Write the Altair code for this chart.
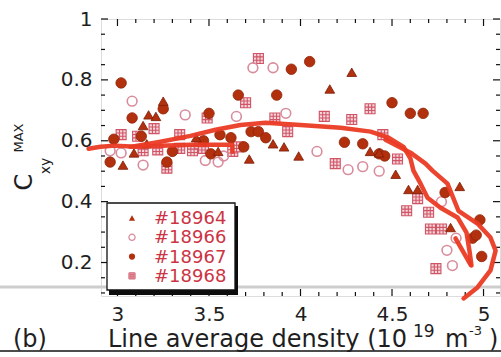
import altair as alt
import pandas as pd

# Maximum cross-correlation C_xy^MAX versus line-averaged density, four shots
shots = ["#18964", "#18966", "#18967", "#18968"]

s18964_x = [3.25, 3.17, 3.21, 3.14, 3.03, 3.09, 3.16, 3.43, 3.55, 3.72, 3.85, 3.91, 3.99,
            4.16, 4.28, 4.38, 4.43, 4.52, 4.59, 4.64, 4.87, 4.82]
s18964_y = [0.73, 0.685, 0.68, 0.65, 0.52, 0.56, 0.59, 0.61, 0.565, 0.54, 0.59, 0.58, 0.55,
            0.77, 0.825, 0.565, 0.56, 0.49, 0.44, 0.44, 0.45, 0.315]

s18966_x = [3.08, 3.37, 3.65, 3.74, 3.85, 3.92, 2.96, 3.02, 3.14, 3.48, 3.55, 3.58, 4.09,
            4.26, 4.34, 4.43, 4.77, 4.85, 4.80, 4.83]
s18966_y = [0.73, 0.685, 0.68, 0.84, 0.84, 0.69, 0.567, 0.56, 0.52, 0.535, 0.53, 0.55, 0.565,
            0.505, 0.515, 0.50, 0.40, 0.28, 0.24, 0.19]

s18967_x = [3.02, 3.25, 3.08, 3.50, 3.66, 3.87, 3.95, 4.05, 4.50, 4.60, 4.67, 2.96, 3.27,
            2.98, 3.13, 3.30, 3.47, 3.51, 3.56, 3.62, 3.69, 3.73, 3.77, 3.81, 4.24, 4.34,
            4.43, 4.46, 4.79, 4.98, 4.94, 4.96, 4.99]
s18967_y = [0.79, 0.705, 0.675, 0.69, 0.75, 0.75, 0.835, 0.86, 0.725, 0.69, 0.69, 0.53, 0.53,
            0.605, 0.615, 0.565, 0.60, 0.557, 0.62, 0.61, 0.58, 0.63, 0.63, 0.61, 0.595, 0.59,
            0.557, 0.55, 0.43, 0.34, 0.28, 0.29, 0.22]

s18968_x = [3.20, 3.02, 3.11, 3.34, 3.14, 3.22, 3.34, 3.41, 3.45, 3.47, 3.27, 3.49, 3.70,
            3.63, 3.66, 3.77, 3.86, 3.93, 4.13, 4.28, 4.38, 4.45, 4.53, 4.19, 4.64, 4.58,
            4.70, 4.71, 4.77, 4.74]
s18968_y = [0.64, 0.62, 0.615, 0.62, 0.567, 0.57, 0.575, 0.567, 0.59, 0.575, 0.51, 0.675, 0.725,
            0.565, 0.58, 0.87, 0.675, 0.63, 0.68, 0.67, 0.705, 0.62, 0.54, 0.525, 0.41, 0.37,
            0.365, 0.31, 0.31, 0.18]

# Hand-drawn red trend strokes over the scatter
stroke1_x = [2.842, 2.907, 2.989, 3.098, 3.235, 3.399, 3.536, 3.628, 3.628]
stroke1_y = [0.574, 0.580, 0.584, 0.580, 0.584, 0.587, 0.587, 0.587, 0.564]
stroke2_x = [3.071, 3.235, 3.399, 3.536, 3.672, 3.809, 4.000, 4.219, 4.383, 4.481, 4.563,
             4.601, 4.617, 4.656, 4.694, 4.765, 4.858, 4.907, 4.923, 4.934]
stroke2_y = [0.580, 0.597, 0.616, 0.636, 0.652, 0.659, 0.652, 0.643, 0.630, 0.610, 0.580,
             0.541, 0.502, 0.459, 0.413, 0.380, 0.348, 0.298, 0.239, 0.190]
stroke3_x = [4.847, 4.929]
stroke3_y = [0.279, 0.193]
stroke4_x = [4.464, 4.601, 4.683, 4.721, 4.803, 4.863, 4.967, 5.038, 5.066, 5.038, 4.967, 4.891]
stroke4_y = [0.603, 0.561, 0.525, 0.502, 0.459, 0.370, 0.328, 0.282, 0.239, 0.174, 0.118, 0.082]

x_labels = [3, 3.5, 4, 4.5, 5]
y_labels = [0.2, 0.4, 0.6, 0.8, 1]
x_minor = [3.1, 3.2, 3.3, 3.4, 3.6, 3.7, 3.8, 3.9, 4.1, 4.2, 4.3, 4.4, 4.6, 4.7, 4.8, 4.9]
y_minor = [0.1, 0.15, 0.25, 0.3, 0.35, 0.45, 0.5, 0.55, 0.65, 0.7, 0.75, 0.85, 0.9, 0.95]

W, H = 399, 277
FONT = "DejaVu Sans"
RED = "#ea3a24"
DARK = "#b3300f"
PINK = "#d98c9c"
GRID_SQ = "M-1,-1H1V1H-1Z M-1,-0.33H1 M-1,0.33H1 M-0.33,-1V1 M0.33,-1V1"

X = alt.X("x:Q", scale=alt.Scale(domain=[2.91, 5.09], nice=False, zero=False),
          axis=alt.Axis(values=x_labels, format="~g", ticks=False, domain=False, grid=False,
                        labelFont=FONT, labelFontSize=20, labelColor="#1e1e1e",
                        labelPadding=8, title=None))
Y = alt.Y("y:Q", scale=alt.Scale(domain=[0.09, 1.0], nice=False, zero=False),
          axis=alt.Axis(values=y_labels, format="~g", ticks=False, domain=False, grid=False,
                        labelFont=FONT, labelFontSize=20, labelColor="#1e1e1e",
                        labelPadding=9, title=None))


def pts(xs, ys):
    return pd.DataFrame({"x": xs, "y": ys})


one = pd.DataFrame({"a": [0]})

tri = alt.Chart(pts(s18964_x, s18964_y)).mark_point(
    shape="triangle-up", filled=True, size=95, color=DARK, stroke="#7a1e08", strokeWidth=0.8,
    opacity=1).encode(x=X, y=Y)
ocirc = alt.Chart(pts(s18966_x, s18966_y)).mark_point(
    shape="circle", filled=False, size=95, color=PINK, strokeWidth=1.6, opacity=1).encode(x=X, y=Y)
fcirc = alt.Chart(pts(s18967_x, s18967_y)).mark_point(
    shape="circle", filled=True, size=110, color=DARK, stroke="#8e2408", strokeWidth=0.8,
    opacity=1).encode(x=X, y=Y)
sq = alt.Chart(pts(s18968_x, s18968_y)).mark_point(
    shape=GRID_SQ, filled=True, size=100, fill="#f6d6da", stroke="#cf5466", strokeWidth=1.1,
    opacity=1).encode(x=X, y=Y)

strokes = []
for i, (sx, sy) in enumerate([(stroke1_x, stroke1_y), (stroke2_x, stroke2_y),
                              (stroke3_x, stroke3_y), (stroke4_x, stroke4_y)]):
    strokes.append(pd.DataFrame({"x": sx, "y": sy, "k": range(len(sx)), "s": i}))
red = alt.Chart(pd.concat(strokes)).mark_line(
    color=RED, strokeWidth=4.5, strokeCap="round", strokeJoin="round", opacity=0.95
).encode(x=X, y=Y, detail="s:N", order="k:Q")


# inward tick marks on all four sides
def xticks(vals, ln):
    d = pd.DataFrame({"x": vals})
    b = alt.Chart(d).mark_rule(color="#111", strokeWidth=1.2).encode(
        x=X, y=alt.value(H), y2=alt.value(H - ln))
    t = alt.Chart(d).mark_rule(color="#111", strokeWidth=1.2).encode(
        x=X, y=alt.value(0), y2=alt.value(ln))
    return [b, t]


def yticks(vals, ln):
    d = pd.DataFrame({"y": vals})
    l = alt.Chart(d).mark_rule(color="#111", strokeWidth=1.2).encode(
        y=Y, x=alt.value(0), x2=alt.value(ln))
    r = alt.Chart(d).mark_rule(color="#111", strokeWidth=1.2).encode(
        y=Y, x=alt.value(W), x2=alt.value(W - ln))
    return [l, r]


ticks = xticks(x_labels, 7) + xticks(x_minor, 4) + yticks(y_labels, 7) + yticks(y_minor, 4)

# scan lines across the page
grey = alt.Chart(one).mark_rule(color="#cdcdcd", strokeWidth=3).encode(
    x=alt.value(-101), x2=alt.value(W + 2), y=alt.value(268))
under = alt.Chart(one).mark_rule(color="#111", strokeWidth=1.5).encode(
    x=alt.value(-101), x2=alt.value(W + 2), y=alt.value(332))

# legend box with shadow
shadow = alt.Chart(one).mark_rect(color="#0d0d0d").encode(
    x=alt.value(8), x2=alt.value(137), y=alt.value(187), y2=alt.value(276))
box = alt.Chart(one).mark_rect(fill="white", stroke="#111", strokeWidth=1.3).encode(
    x=alt.value(6), x2=alt.value(134), y=alt.value(184), y2=alt.value(271))
leg = [shadow, box]
leg_styles = [
    dict(shape="triangle-up", filled=True, color=DARK),
    dict(shape="circle", filled=False, color=PINK, strokeWidth=1.3),
    dict(shape="circle", filled=True, color=DARK),
    dict(shape=GRID_SQ, filled=True, fill="#f6d6da", stroke="#cf5466", strokeWidth=0.9),
]
for i, name in enumerate(shots):
    yy = 199 + i * 19.3
    leg.append(alt.Chart(one).mark_point(size=38, opacity=1, **leg_styles[i]).encode(
        x=alt.value(31), y=alt.value(yy)))
    leg.append(alt.Chart(pd.DataFrame({"t": [name]})).mark_text(
        font=FONT, fontSize=18, color="#cc3444", align="left", baseline="middle").encode(
        x=alt.value(53), y=alt.value(yy + 1), text="t:N"))


def label(txt, x, y, size, angle=0, align="left", baseline="alphabetic"):
    kw = dict(font=FONT, fontSize=size, color="#1e1e1e", align=align, baseline=baseline)
    if angle:
        kw["angle"] = angle
    return alt.Chart(pd.DataFrame({"t": [txt]})).mark_text(**kw).encode(
        x=alt.value(x), y=alt.value(y), text="t:N")


texts = [
    label("Line average density (10", 7, 328, 24),
    label("19", 312, 318, 17),
    label("m", 344, 328, 24),
    label("-3", 368, 316, 13),
    label(")", 388, 328, 24),
    label("(b)", -88, 328, 24),
    label("C", -76, 163, 24, angle=270, align="center", baseline="middle"),
    label("xy", -55, 147, 14, angle=270, align="center", baseline="middle"),
    label("MAX", -82, 119, 13, angle=270, align="center", baseline="middle"),
]

chart = alt.layer(
    grey, *ticks, sq, ocirc, fcirc, tri, red, *leg, under, *texts
).properties(
    width=W, height=H, autosize="none",
    padding={"left": 101, "top": 19, "right": 1, "bottom": 61},
).configure_view(stroke="#111", strokeWidth=1.5).configure(background="white")

chart.save("out.html", embed_options={"renderer": "svg", "actions": False})
